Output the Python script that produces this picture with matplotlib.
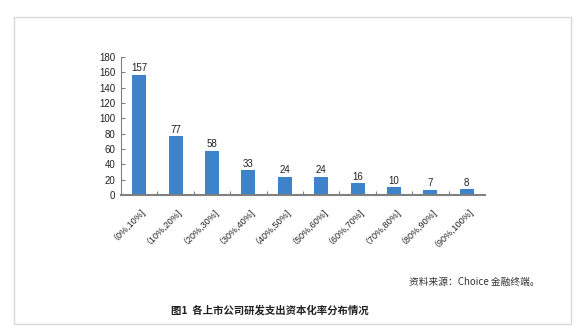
import matplotlib.pyplot as plt
from matplotlib.patches import Rectangle

plt.rcParams['font.family'] = ['Liberation Sans', 'Noto Sans CJK SC', 'DejaVu Sans']

#################################### Data ######################################

categories = ['（0%,10%]', '（10%,20%]', '（20%,30%]', '（30%,40%]', '（40%,50%]',
              '（50%,60%]', '（60%,70%]', '（70%,80%]', '（80%,90%]', '（90%,100%]']
counts = [157, 77, 58, 33, 24, 24, 16, 10, 7, 8]
y_ticks = [0, 20, 40, 60, 80, 100, 120, 140, 160, 180]

#################################### Plotting ##################################

W, H = 578, 334
fig = plt.figure(figsize=(W / 100, H / 100), dpi=100)

# card frame
card = Rectangle((14 / W, 1 - 324 / H), (571 - 14) / W, (324 - 17) / H,
                 transform=fig.transFigure, facecolor='white',
                 edgecolor='#d9d9d9', linewidth=1.0, zorder=-10)
fig.patches.append(card)

ax = fig.add_axes([121 / W, 1 - 195 / H, (485 - 121) / W, (195 - 57) / H])
ax.patch.set_alpha(0)

x = range(len(categories))
bars = ax.bar(x, counts, width=0.38, color='#3e82c9')
for xi, v in zip(x, counts):
    ax.text(xi, v + 1.5, str(v), ha='center', va='bottom', fontsize=7, color='#222222')

ax.set_xlim(-0.5, len(categories) - 0.5)
ax.set_ylim(0, 180)
ax.set_yticks(y_ticks)
ax.tick_params(axis='y', direction='in', length=3, labelsize=7, colors='#808080',
               labelcolor='#222222', pad=4)
ax.set_xticks([i + 0.5 for i in range(len(categories) - 1)], minor=False)
ax.set_xticklabels([])
ax.tick_params(axis='x', direction='in', length=3, colors='#808080')
ax.set_xticks(list(x), minor=True)
ax.set_xticklabels(categories, minor=True, rotation=45, ha='right',
                   rotation_mode='anchor', fontsize=6.5, color='#222222')
ax.tick_params(axis='x', which='minor', length=0, pad=6)

for s in ['top', 'right']:
    ax.spines[s].set_visible(False)
ax.spines['left'].set_color('#808080')
ax.spines['bottom'].set_color('#808080')
ax.spines['bottom'].set_linewidth(1.5)

fig.text(540 / W, 1 - 282 / H, '资料来源：Choice 金融终端。', ha='right', va='center',
         fontsize=7, color='#333333', family=['Noto Sans CJK SC', 'DejaVu Sans'])
fig.text(270 / W, 1 - 310 / H, '图1  各上市公司研发支出资本化率分布情况', ha='center',
         va='center', fontsize=7.5, fontweight='bold', color='#222222',
         family=['Noto Sans CJK SC', 'DejaVu Sans'])

plt.savefig('out.png', dpi=100)
